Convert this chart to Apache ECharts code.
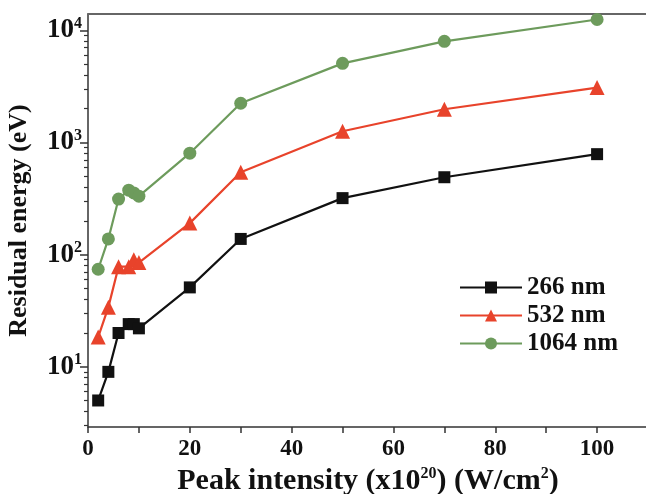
<!DOCTYPE html>
<html>
<head>
<meta charset="utf-8">
<script src="https://cdn.jsdelivr.net/npm/echarts@6/dist/echarts.min.js"></script>
<style>
  html, body { margin: 0; padding: 0; background: #fff; }
  #chart { width: 646px; height: 494px; }
</style>
</head>
<body>
<div id="chart"></div>
<script>
const intensity = [2, 4, 6, 8, 9, 10, 20, 30, 50, 70, 100];
const e266 = [5, 9, 20, 24, 24, 22, 51, 138, 319, 490, 787];
const e532 = [18.4, 34, 78, 78, 90, 85, 191, 543, 1260, 1980, 3090];
const e1064 = [74, 138, 313, 376, 355, 332, 803, 2240, 5080, 7980, 12500];
const xTicks = [0, 20, 40, 60, 80, 100];
const yMajor = [10, 100, 1000, 10000];
const yMinor = [3, 4, 5, 6, 7, 8, 9, 20, 30, 40, 50, 60, 70, 80, 90,
  200, 300, 400, 500, 600, 700, 800, 900, 2000, 3000, 4000, 5000, 6000, 7000, 8000, 9000];

const font = 'Liberation Serif';
const pair = (a, b) => a.map((v, i) => [v, b[i]]);

var myChart = echarts.init(document.getElementById('chart'));
const option = {
  animation: false,
  grid: { left: 88, right: -2, top: 14, bottom: 67, containLabel: false, outerBoundsMode: 'none' },
  legend: {
    orient: 'vertical',
    left: 454,
    top: 270,
    itemWidth: 62,
    itemHeight: 15,
    itemGap: 3,
    textStyle: { fontFamily: font, fontWeight: 'bold', fontSize: 25, color: '#111' },
    data: ['266 nm', '532 nm', '1064 nm']
  },
  xAxis: [
    {
      type: 'value',
      min: 0,
      max: 110,
      interval: 10,
      splitLine: { show: false },
      axisLine: { lineStyle: { color: '#333', width: 1.5 } },
      axisTick: { length: 6, lineStyle: { color: '#333', width: 1.5 } },
      axisLabel: {
        margin: 11,
        fontFamily: font, fontWeight: 'bold', fontSize: 23, color: '#111',
        formatter: v => (xTicks.indexOf(v) >= 0 ? String(v) : '')
      },
      name: '{a|Peak intensity (x10}{s|20}{a|) (W/cm}{s|2}{a|)}',
      nameLocation: 'middle',
      nameGap: 38,
      nameTextStyle: {
        rich: {
          a: { fontFamily: font, fontWeight: 'bold', fontSize: 30, color: '#111' },
          s: { fontFamily: font, fontWeight: 'bold', fontSize: 16, color: '#111', verticalAlign: 'top', padding: [0, 0, 14, 0] }
        }
      }
    },
    {
      type: 'value',
      position: 'top',
      min: 0,
      max: 110,
      axisLine: { show: true, onZero: false, lineStyle: { color: '#666', width: 2 } },
      axisTick: { show: false },
      axisLabel: { show: false },
      splitLine: { show: false }
    }
  ],
  yAxis: [
    {
      type: 'log',
      min: 2.9,
      max: 14000,
      position: 'left',
      splitLine: { show: false },
      axisLine: { show: true, lineStyle: { color: '#333', width: 1.5 } },
      axisTick: { length: 8, customValues: yMajor, lineStyle: { color: '#333', width: 1.5 } },
      axisLabel: {
        customValues: yMajor,
        margin: 6,
        formatter: v => '{b|10}{s|' + Math.round(Math.log10(v)) + '}',
        rich: {
          b: { fontFamily: font, fontWeight: 'bold', fontSize: 27, color: '#111' },
          s: { fontFamily: font, fontWeight: 'bold', fontSize: 16, color: '#111', verticalAlign: 'top', padding: [0, 0, 14, 0] }
        }
      },
      name: 'Residual energy (eV)',
      nameLocation: 'middle',
      nameGap: 56,
      nameTextStyle: { fontFamily: font, fontWeight: 'bold', fontSize: 26, color: '#111' }
    },
    {
      type: 'log',
      min: 2.9,
      max: 14000,
      position: 'left',
      splitLine: { show: false },
      axisLine: { show: false },
      axisTick: { length: 4, customValues: yMinor, lineStyle: { color: '#333', width: 1.2 } },
      axisLabel: { show: false }
    }
  ],
  series: [
    {
      name: '266 nm', type: 'line', data: pair(intensity, e266),
      symbol: 'rect', symbolSize: 12,
      color: '#111', lineStyle: { width: 2.2, color: '#111' }
    },
    {
      name: '532 nm', type: 'line', data: pair(intensity, e532),
      symbol: 'triangle', symbolSize: 15,
      color: '#e8432b', lineStyle: { width: 2.2, color: '#e8432b' }
    },
    {
      name: '1064 nm', type: 'line', data: pair(intensity, e1064),
      symbol: 'circle', symbolSize: 13,
      color: '#6d9b5c', lineStyle: { width: 2.2, color: '#6d9b5c' }
    }
  ]
};
option && myChart.setOption(option);
</script>
</body>
</html>
